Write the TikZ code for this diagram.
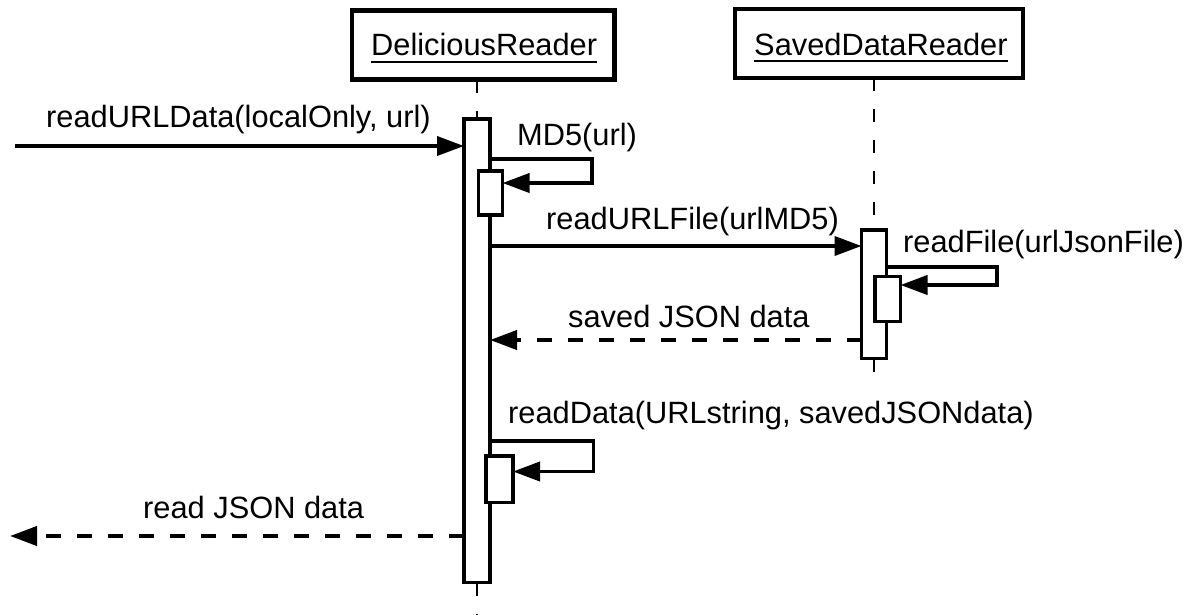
\documentclass[tikz,border=0pt]{standalone}
\usepackage{fontspec}
\setmainfont{Liberation Sans}
\usetikzlibrary{arrows.meta}
\begin{document}
\begin{tikzpicture}[x=1pt,y=-1pt,
  every node/.style={font=\fontsize{30.8}{36}\selectfont},
  objbox/.style={draw,line width=4.5pt,inner sep=0pt,outer sep=0pt},
  actbar/.style={draw,fill=white,line width=3.5pt,inner sep=0pt,outer sep=0pt},
  lifeline/.style={line width=2pt,dash pattern=on 13pt off 18pt},
  call/.style={line width=3.8pt,-{Triangle[length=27pt,width=19pt]}},
  reply/.style={line width=4pt,dash pattern=on 15pt off 16pt,-{Triangle[length=27pt,width=19pt]}},
  lbl/.style={anchor=base west,inner sep=0pt},
  uline/.style={line width=2.4pt}]
\useasboundingbox (0,0) rectangle (1195,614);

% object boxes
\node[objbox,minimum width=262.5pt,minimum height=69pt] (drbox) at (483.25,45) {};
\node[objbox,minimum width=288pt,minimum height=69pt] (sdrbox) at (879,43.5) {};
\node[lbl] (drname) at (371,55) {DeliciousReader};
\node[lbl] (sdrname) at (754,55) {SavedDataReader};
\draw[uline] ([yshift=-7pt]drname.base west) -- ([yshift=-7pt]drname.base east);
\draw[uline] ([yshift=-6pt]sdrname.base west) -- ([yshift=-6pt]sdrname.base east);

% lifeline ends
\coordinate (drend) at (477,614);
\coordinate (sdrend) at (874,373);

% activation bars
\node[actbar,minimum width=26pt,minimum height=463.5pt] (drbar) at (477,350.75) {};
\node[actbar,minimum width=25pt,minimum height=128.5pt] (sdrbar) at (874,294.25) {};

% lifelines
\draw[lifeline] (drbox.south -| drbar.north) -- (drbar.north);
\draw[lifeline] (drbar.south) -- (drend);
\draw[lifeline] (sdrbox.south -| sdrbar.north) -- (sdrbar.north);
\draw[lifeline] (sdrbar.south) -- (sdrend);

% nested activations for self calls
\node[actbar,minimum width=24pt,minimum height=44pt] (md5bar) at (490.5,193) {};
\node[actbar,minimum width=25.5pt,minimum height=45pt] (filebar) at (887.75,299) {};
\node[actbar,minimum width=27pt,minimum height=46.5pt] (databar) at (499.5,479.25) {};

% incoming call
\coordinate (caller) at (15,146);
\draw[call] (caller) -- (caller -| drbar.west);
\node[lbl] (m1) at (46,127) {readURLData(localOnly, url)};

% MD5 self call
\coordinate (md5out) at (592,159);
\coordinate (md5in) at (592,183);
\draw[call] (md5out -| drbar.east) -- (md5out) -- (md5in) -- (md5in -| md5bar.east);
\node[lbl] (m2) at (517,145) {MD5(url)};

% call to SavedDataReader
\coordinate (fileline) at (0,246);
\draw[call] (fileline -| drbar.east) -- (fileline -| sdrbar.west);
\node[lbl] (m3) at (546,229) {readURLFile(urlMD5)};

% readFile self call
\coordinate (rfout) at (997,267);
\coordinate (rfin) at (997,285);
\draw[call] (rfout -| sdrbar.east) -- (rfout) -- (rfin) -- (rfin -| filebar.east);
\node[lbl] (m4) at (903,252) {readFile(urlJsonFile)};

% reply with saved data
\coordinate (savedline) at (0,340);
\draw[reply] (savedline -| sdrbar.west) -- (savedline -| drbar.east);
\node[lbl] (m5) at (568,327) {saved JSON data};

% readData self call
\coordinate (rdout) at (593.5,441);
\coordinate (rdin) at (593.5,471.5);
\draw[call] (rdout -| drbar.east) -- (rdout) -- (rdin) -- (rdin -| databar.east);
\node[lbl] (m6) at (508,423) {readData(URLstring, savedJSONdata)};

% final reply
\coordinate (callerback) at (10,536);
\draw[reply] (callerback -| drbar.west) -- (callerback);
\node[lbl] (m7) at (143,518) {read JSON data};
\end{tikzpicture}
\end{document}
